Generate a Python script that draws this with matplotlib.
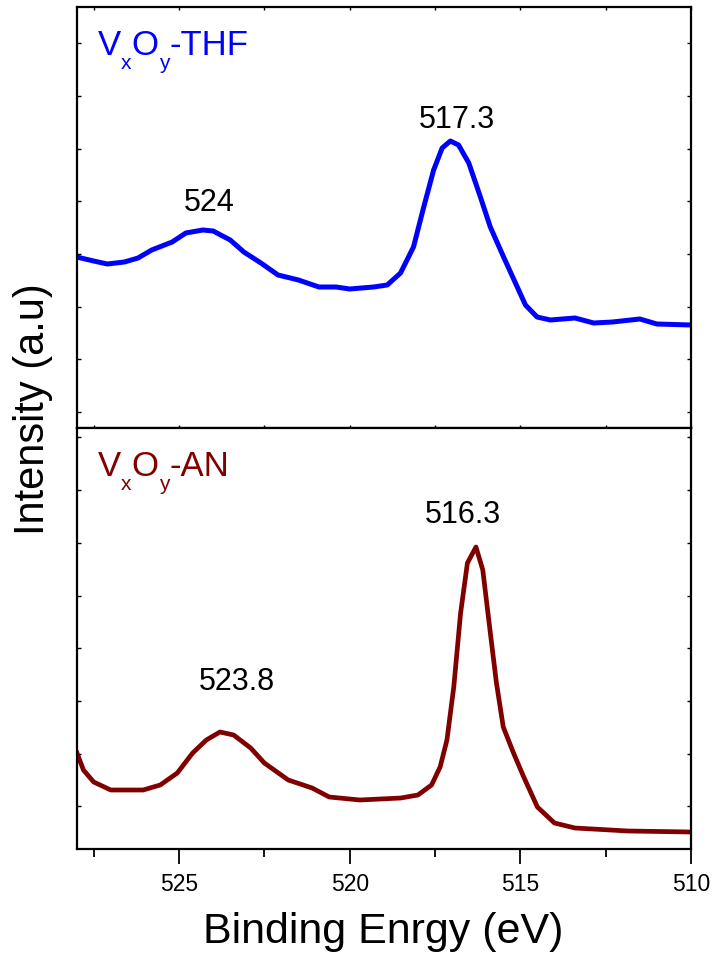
import matplotlib
matplotlib.use('Agg')
import matplotlib.pyplot as plt
from matplotlib.ticker import MultipleLocator
from matplotlib.transforms import offset_copy

plt.rcParams['font.family'] = ['Liberation Sans', 'DejaVu Sans']

# V 2p spectrum, VxOy from THF (a.u.)
thfEnergy = [528, 527.5, 527.1, 526.6, 526.2, 525.8, 525.2, 524.8, 524.3, 524.0,
             523.5, 523.1, 522.6, 522.1, 521.5, 520.9, 520.4, 520.0, 519.3, 518.9,
             518.51, 518.13, 517.83, 517.54, 517.29, 517.05, 516.81, 516.51, 516.17, 515.88,
             515.49, 515.09, 514.85, 514.51, 514.12, 513.4, 512.85, 512.3, 511.5, 511.0,
             510.0]
thfIntensity = [171, 167, 164, 166, 170, 178, 186, 195, 198, 197,
                188, 176, 165, 153, 148, 141, 141, 139, 141, 143,
                155, 181, 221, 258, 280, 287, 283, 265, 231, 201,
                171, 141, 123, 111, 108, 110, 105, 106, 109, 104,
                103]

# VxOy from AN
anEnergy = [528, 527.8, 527.5, 527.0, 526.05, 525.55, 525.05, 524.6, 524.2, 523.8,
            523.4, 522.9, 522.5, 521.8, 521.1, 520.6, 519.7, 518.5, 518.0, 517.6,
            517.35, 517.15, 516.95, 516.75, 516.55, 516.3, 516.1, 515.9, 515.7, 515.5,
            515.2, 514.9, 514.5, 514.0, 513.4, 511.85, 510]
anIntensity = [97, 79, 67, 59, 59, 64, 76, 96, 109, 117,
               114, 101, 86, 69, 61, 52, 49, 51, 54, 64,
               82, 109, 162, 236, 286, 302, 279, 222, 166, 122,
               96, 72, 42, 26, 21, 18, 17]

# peak labels: (text, x, y)
thfPeaks = [('524', 524.12, 217), ('517.3', 516.87, 300)]
anPeaks = [('523.8', 523.3, 159), ('516.3', 516.67, 326)]

W, H = 712, 961
fig = plt.figure(figsize = (W / 100, H / 100), dpi = 100)
left = 76.6 / W
width = (691 - 76.6) / W
axTop = fig.add_axes([left, 1 - 428 / H, width, 421 / H])
axBot = fig.add_axes([left, 1 - 849 / H, width, 421 / H])
renderer = fig.canvas.get_renderer()

def sampleLabel(ax, pieces, col):
    # writes V, x, O, y, -THF one after another, subscripts dropped like in Origin
    x0 = 0.035
    tr = ax.transAxes
    dx = 0
    for txt, sub in pieces:
        t = ax.text(x0, 0.885, txt, transform = offset_copy(tr, fig = fig, x = dx, y = -9.5 if sub else 0, units = 'points'),
                    color = col, fontsize = 15 if sub else 25)
        bb = t.get_window_extent(renderer)
        dx += bb.width * 72 / fig.dpi

panels = [
    (axTop, thfEnergy, thfIntensity, '#0000ff', 3.6, '-THF', thfPeaks, 16),
    (axBot, anEnergy, anIntensity, '#800000', 3.4, '-AN', anPeaks, -10),
]
for ax, xs, ys, col, lw, name, peaks, tick0 in panels:
    ax.plot(xs, ys, '-', color = col, linewidth = lw, solid_joinstyle = 'round')
    ax.set_xlim(528, 510)
    ax.set_ylim(0, 421)
    ax.set_yticks([tick0 + 52.7 * k for k in range(9) if 0 < tick0 + 52.7 * k < 421])
    ax.set_yticklabels([])
    ax.tick_params(axis = 'y', which = 'both', direction = 'in', left = True, right = True, length = 3, width = 1)
    ax.xaxis.set_major_locator(MultipleLocator(5))
    ax.xaxis.set_minor_locator(MultipleLocator(2.5))
    for sp in ax.spines.values():
        sp.set_linewidth(1.6)
    sampleLabel(ax, [('V', False), ('x', True), ('O', False), ('y', True), (name, False)], col)
    for txt, px, py in peaks:
        ax.text(px, py, txt, ha = 'center', va = 'baseline', fontsize = 22)

axTop.tick_params(axis = 'x', which = 'both', direction = 'in', top = True, bottom = True,
                  length = 2, width = 1, labelbottom = False)
axBot.tick_params(axis = 'x', which = 'major', direction = 'out', length = 11, width = 1.3,
                  labelsize = 16.5, pad = 6)
axBot.tick_params(axis = 'x', which = 'minor', direction = 'out', length = 6, width = 1.3)

fig.text(383 / W, 1 - 943 / H, 'Binding Enrgy (eV)', ha = 'center', va = 'baseline', fontsize = 31)
fig.text(33 / W, 1 - 409 / H, 'Intensity (a.u)', ha = 'center', va = 'center', rotation = 90, fontsize = 30)

fig.savefig('out.png', dpi = 100)
